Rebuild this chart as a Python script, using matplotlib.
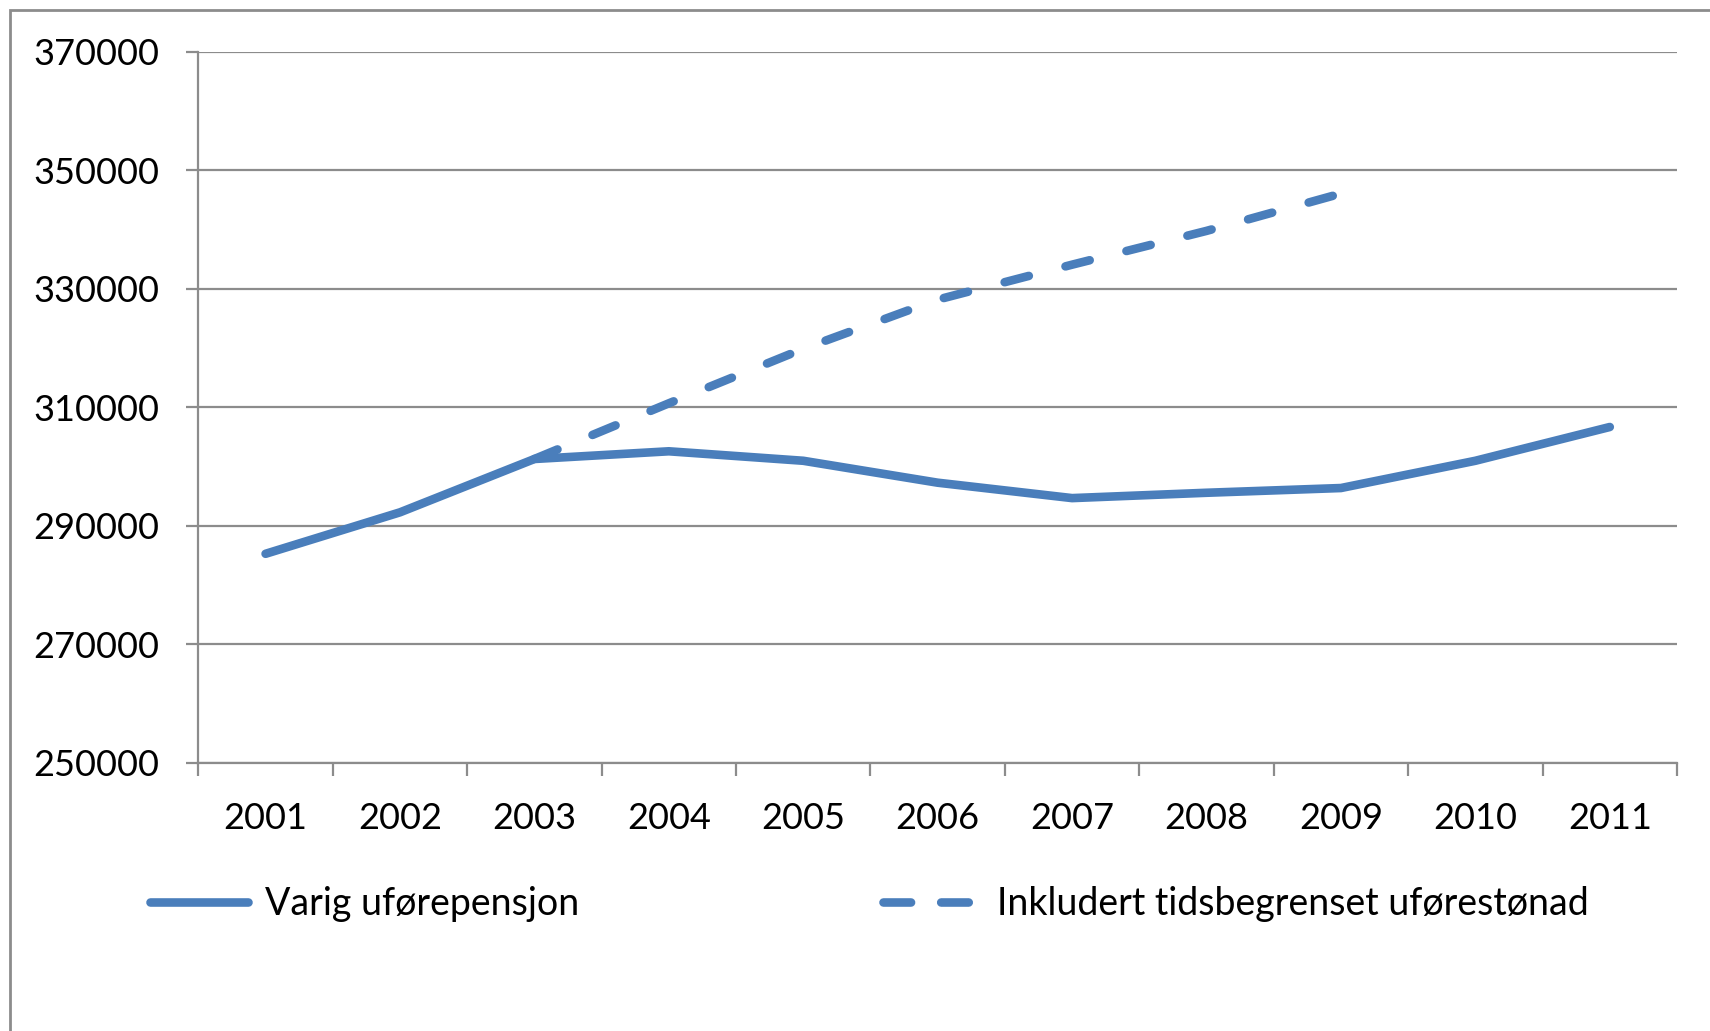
import matplotlib
matplotlib.use("Agg")
import matplotlib.pyplot as plt
from matplotlib.patches import Rectangle
from matplotlib.lines import Line2D

# data
years = ["2001", "2002", "2003", "2004", "2005", "2006",
         "2007", "2008", "2009", "2010", "2011"]
varig = [285300, 292300, 301300, 302600, 301000, 297300,
         294700, 295600, 296400, 301000, 306700]
inkl_years = ["2003", "2004", "2005", "2006", "2007", "2008", "2009"]
inkl = [301300, 310700, 319900, 328200, 334100, 339800, 346100]
yticks = [250000, 270000, 290000, 310000, 330000, 350000, 370000]

label_varig = "Varig uførepensjon"
label_inkl = "Inkludert tidsbegrenset uførestønad"

blue = "#4a7ebb"
grey = "#8c8c8c"
lw = 6.2

plt.rcParams["font.family"] = ["Lato", "DejaVu Sans"]

fig = plt.figure(figsize=(17.1, 10.31), dpi=100)
ax = fig.add_axes([0.116, 0.26, 0.8647, 0.6896])

x = list(range(len(years)))
xi = [years.index(y) for y in inkl_years]

ax.plot(x, varig, color=blue, lw=lw, solid_capstyle="round",
        solid_joinstyle="round")
ax.plot(xi, inkl, color=blue, lw=lw, dashes=(2.9, 4.4),
        dash_capstyle="round")

ax.set_xlim(-0.5, len(years) - 0.5)
ax.set_ylim(yticks[0], yticks[-1])
ax.set_yticks(yticks)
ax.set_yticklabels([str(v) for v in yticks], fontsize=26)
ax.set_xticks(x)
ax.set_xticklabels(years, fontsize=26)
ax.set_xticks([i - 0.5 for i in range(len(years) + 1)], minor=True)

ax.grid(axis="y", color=grey, lw=1.6)
ax.set_axisbelow(True)
ax.tick_params(axis="x", which="major", length=0, pad=28)
ax.tick_params(axis="x", which="minor", length=9, width=1.6, color=grey)
ax.tick_params(axis="y", length=9, width=1.6, color=grey, pad=19)

for s in ["top", "right"]:
    ax.spines[s].set_visible(False)
for s in ["left", "bottom"]:
    ax.spines[s].set_color(grey)
    ax.spines[s].set_linewidth(1.6)

handles = [
    Line2D([], [], color=blue, lw=lw, solid_capstyle="round"),
    Line2D([], [], color=blue, lw=lw, dashes=(3.2, 3.5), dash_capstyle="round"),
]
fig.legend(handles, [label_varig, label_inkl], ncol=2, frameon=False,
           fontsize=27, handlelength=2.6, handletextpad=0.45,
           columnspacing=8.1, borderpad=0, borderaxespad=0,
           loc="center left", bbox_to_anchor=(0.088, 0.123))

# outer chart border (cut off on the right and bottom)
fig.patches.append(Rectangle((9.5 / 1710, -0.1), 1.2, 1.1 - 10.5 / 1031,
                             transform=fig.transFigure, fill=False,
                             edgecolor=grey, lw=2))

fig.savefig("out.png", dpi=100)
